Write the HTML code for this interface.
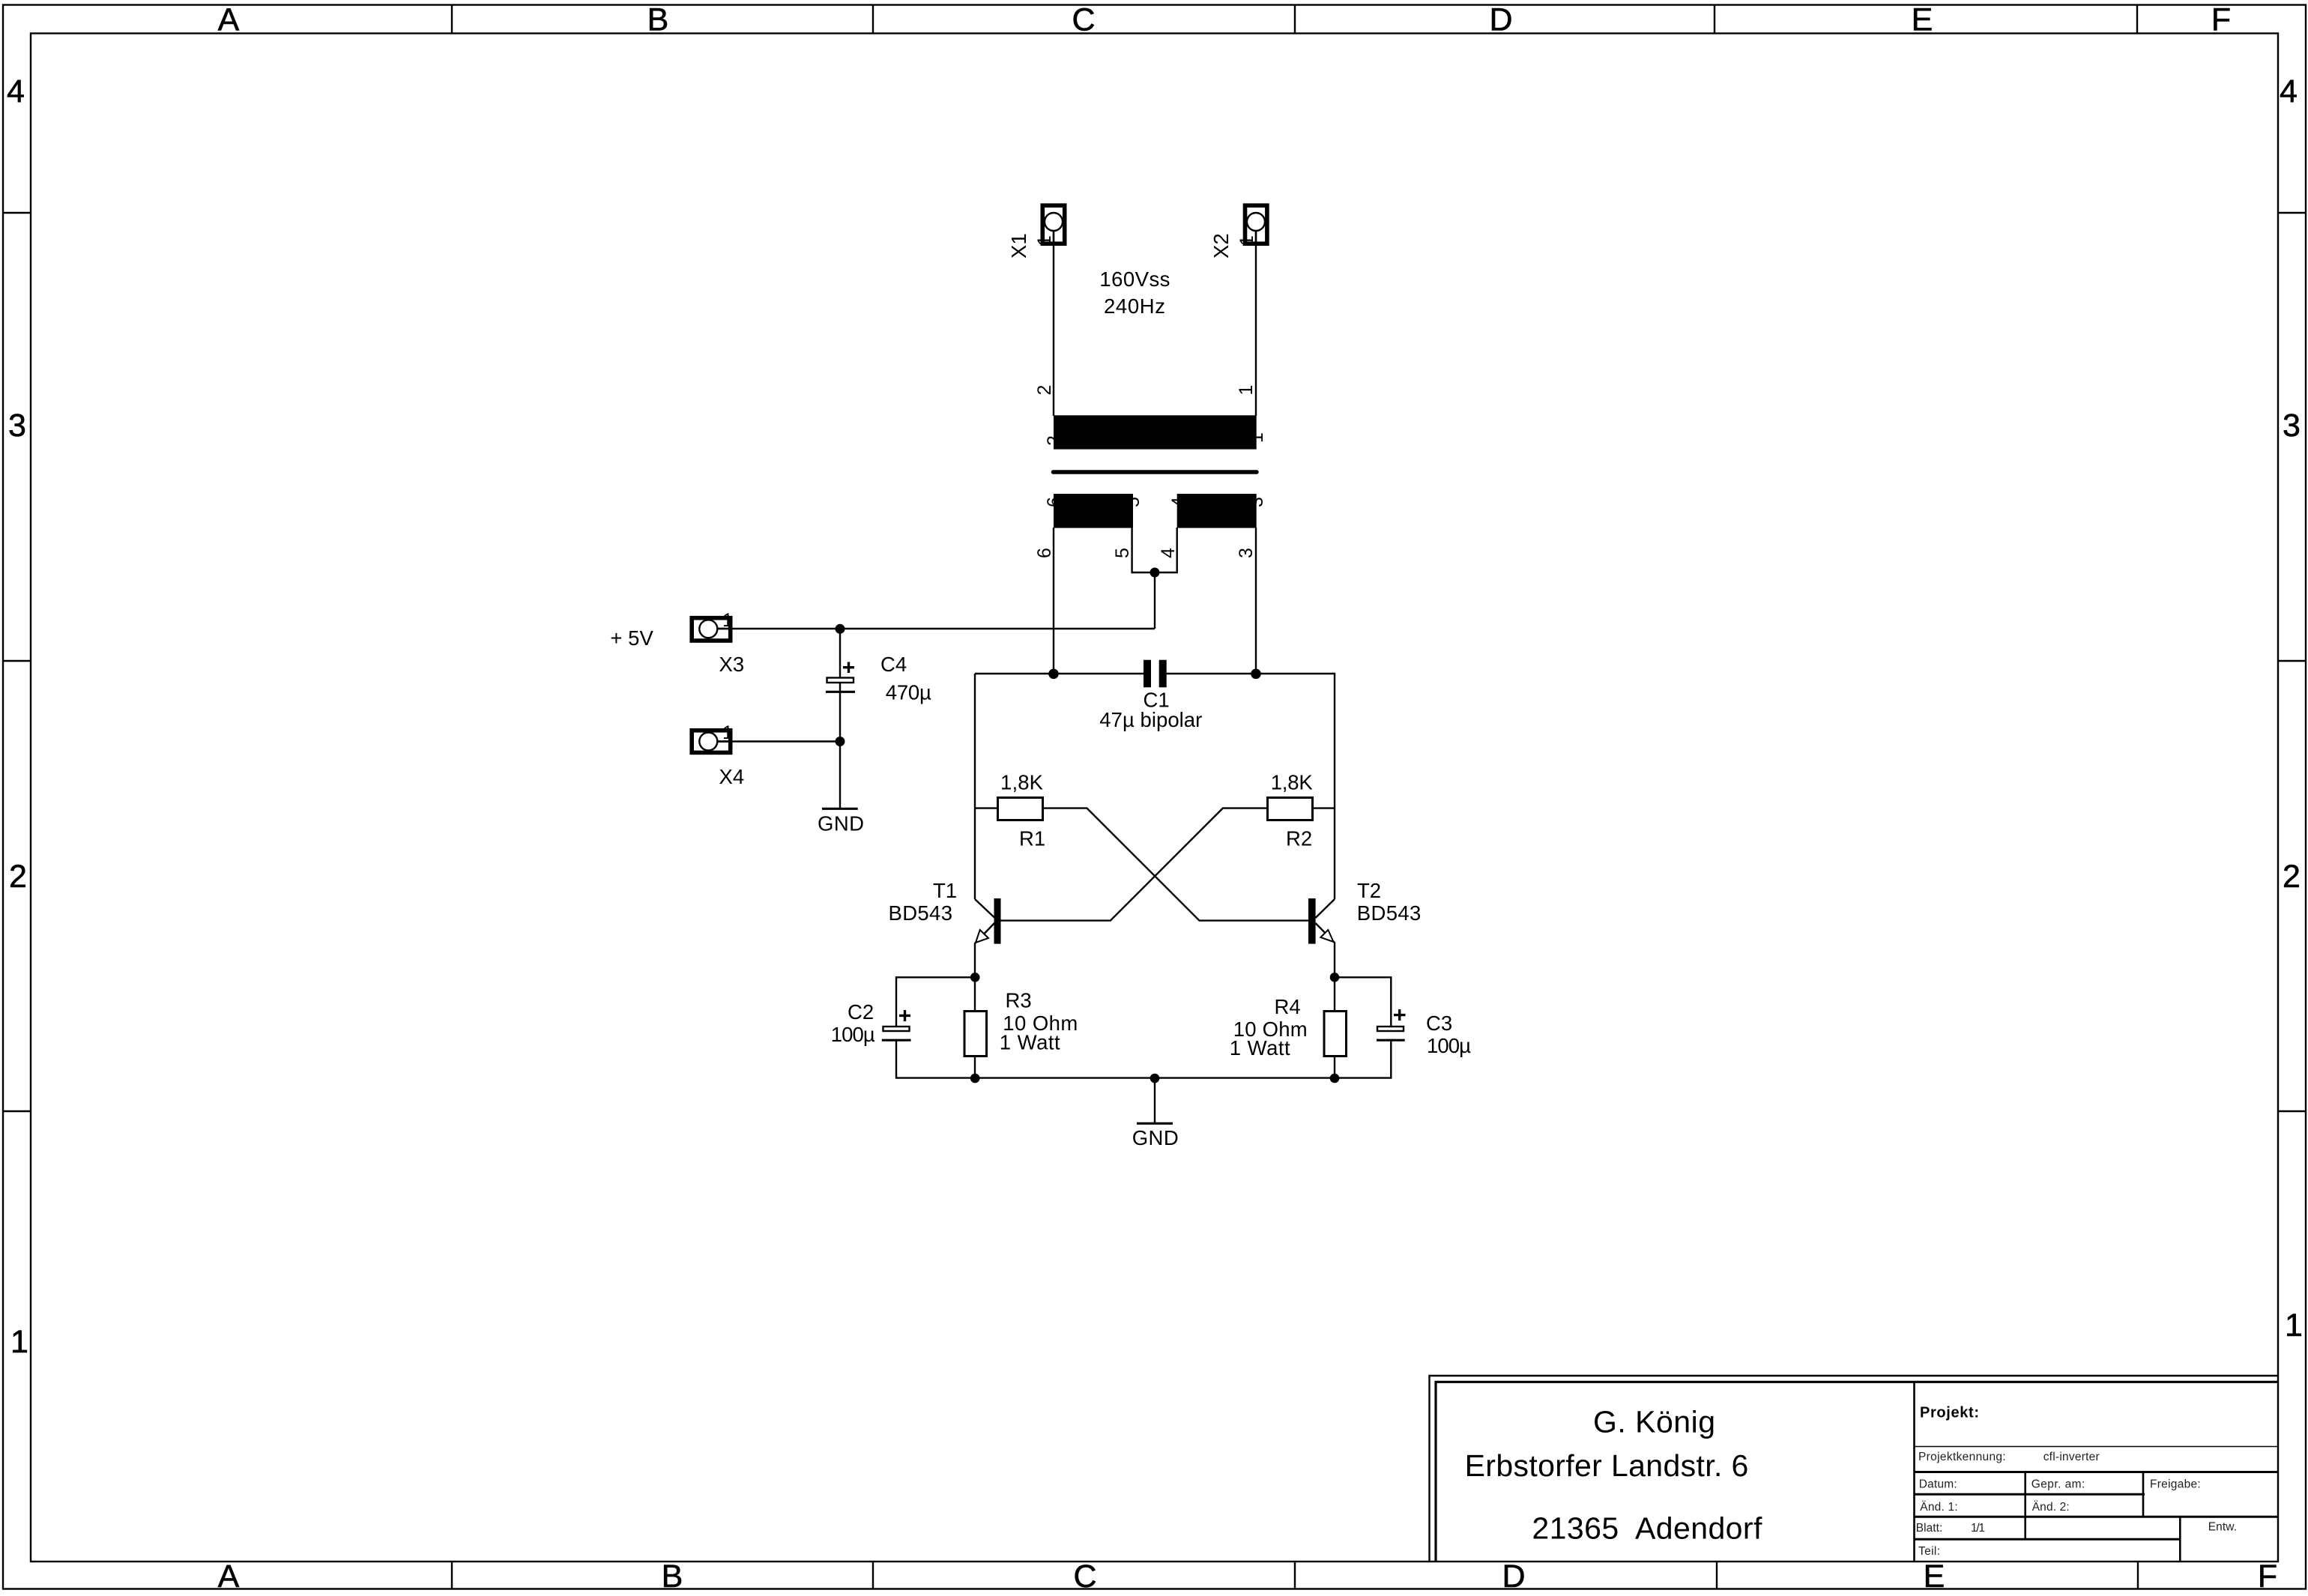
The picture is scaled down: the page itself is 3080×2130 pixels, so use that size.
<!DOCTYPE html>
<html><head><meta charset="utf-8"><style>
html,body{margin:0;padding:0;background:#fff}
svg{display:block}
text{font-family:"Liberation Sans",sans-serif;fill:#000}
.t{font-size:27.5px}
.s{font-size:15.5px;fill:#222}
.b{font-size:43px;stroke:#000;stroke-width:.6px}
.h{font-size:41px}
</style></head><body>
<svg xmlns="http://www.w3.org/2000/svg" width="3080" height="2130" viewBox="0 0 3080 2130">
<rect width="3080" height="2130" fill="#fff"/>
<!-- frame -->
<g fill="none" stroke="#000" stroke-width="2.4">
<rect x="4" y="6.5" width="3073" height="2114"/>
<rect x="41" y="44.5" width="2999" height="2039.5"/>
<path d="M603 6.5V44.5M1165 6.5V44.5M1728 6.5V44.5M2288 6.5V44.5M2852 6.5V44.5M603 2084V2120.5M1165 2084V2120.5M1728 2084V2120.5M2291 2084V2120.5M2853 2084V2120.5M4 284H41M4 882H41M4 1483H41M3040 284H3077M3040 882H3077M3040 1483H3077"/>
</g>
<g class="b" text-anchor="middle">
<text class="b" x="305" y="40.5">A</text><text class="b" x="878" y="40.5">B</text><text class="b" x="1446" y="40.5">C</text><text class="b" x="2003" y="40.5">D</text><text class="b" x="2565" y="40.5">E</text><text class="b" x="2964" y="40.5">F</text>
<text class="b" x="305" y="2118">A</text><text class="b" x="897" y="2118">B</text><text class="b" x="1448" y="2118">C</text><text class="b" x="2020" y="2118">D</text><text class="b" x="2581" y="2118">E</text><text class="b" x="3026" y="2118">F</text>
<text class="b" x="21" y="136">4</text><text class="b" x="23" y="582">3</text><text class="b" x="24" y="1184">2</text><text class="b" x="26" y="1805">1</text>
<text class="b" x="3054" y="136">4</text><text class="b" x="3058" y="582">3</text><text class="b" x="3058" y="1184">2</text><text class="b" x="3061" y="1783">1</text>
</g>
<!-- title block -->
<g fill="none" stroke="#000">
<path d="M1907.5 2084V1836H3040" stroke-width="2.4"/>
<path d="M1916 2084V1844.3H3040" stroke-width="3.2"/>
<path d="M2554.5 1844V2084" stroke-width="2.6"/>
<path d="M2554 1930.5H3040" stroke-width="1.6"/>
<path d="M2554 1964.5H3040M2554 1994.2H2862M2554 2024.2H3040M2554 2054.2H2909" stroke-width="3"/>
<path d="M2702.7 1964V2053M2860 1964V2024M2909.3 2024V2084" stroke-width="2.6"/>
</g>
<text class="h" x="2126" y="1911.7" textLength="163">G. König</text>
<text class="h" x="1954.6" y="1970" textLength="378.7">Erbstorfer Landstr. 6</text>
<text class="h" x="2044.4" y="2053.3" textLength="307" xml:space="preserve">21365  Adendorf</text>
<text x="2562" y="1891.7" font-size="20" font-weight="bold" textLength="79">Projekt:</text>
<text class="s" x="2560" y="1949" textLength="116.7">Projektkennung:</text>
<text class="s" x="2726.7" y="1949" textLength="75">cfl-inverter</text>
<text class="s" x="2560.7" y="1985.7" textLength="51">Datum:</text>
<text class="s" x="2710.7" y="1985.7" textLength="71.6">Gepr. am:</text>
<text class="s" x="2869" y="1985.7" textLength="67.7">Freigabe:</text>
<text class="s" x="2562.3" y="2016" textLength="50.4">Änd. 1:</text>
<text class="s" x="2711.7" y="2016" textLength="50">Änd. 2:</text>
<text class="s" x="2556.7" y="2044" textLength="35.6">Blatt:</text>
<text class="s" x="2630" y="2044" textLength="19">1/1</text>
<text class="s" x="2946.7" y="2042.7" textLength="38.3">Entw.</text>
<text class="s" x="2560" y="2075" textLength="29">Teil:</text>

<!-- pin labels behind components -->
<g font-size="25">
<text transform="translate(1402,328) rotate(-90)">1</text>
<text transform="translate(1672,328) rotate(-90)">1</text>
<text transform="translate(1415,595) rotate(-90)">2</text>
<text transform="translate(1685,591) rotate(-90)">1</text>
<text transform="translate(1415,677) rotate(-90)">6</text>
<text transform="translate(1520,677) rotate(-90)">5</text>
<text transform="translate(1581,677) rotate(-90)">4</text>
<text transform="translate(1685,677) rotate(-90)">3</text>
<text transform="translate(1402,527.5) rotate(-90)">2</text>
<text transform="translate(1671,527.5) rotate(-90)">1</text>
<text transform="translate(1402,745) rotate(-90)">6</text>
<text transform="translate(1506,745) rotate(-90)">5</text>
<text transform="translate(1567,745) rotate(-90)">4</text>
<text transform="translate(1671,745) rotate(-90)">3</text>
<text x="964" y="836">1</text>
<text x="964" y="986">1</text>
</g>
<!-- transformer -->
<rect x="1406" y="554.3" width="270.7" height="45.3"/>
<rect x="1406" y="659" width="106" height="45.6"/>
<rect x="1570.7" y="659" width="106" height="45.6"/>
<path d="M1405.5 630H1677" stroke="#000" stroke-width="5.5" stroke-linecap="round"/>
<!-- wires -->
<g fill="none" stroke="#000" stroke-width="2.4" stroke-linejoin="miter">
<path d="M1406 308V555M1676 308V555M1406 704V899M1676 704V899"/>
<path d="M1510.6 704V764H1570.7V704M1541 764V839M957 839H1541"/>
<path d="M957 989.5H1121M1121 839V904M1121 911V923M1121 923V1079"/>
<path d="M1301 899H1526M1556 899H1781V1200M1301 899V1200"/>
<path d="M1301 1078.6H1331M1392 1078.6H1450.5L1600.5 1228.6H1746"/>
<path d="M1335 1228.6H1481.8L1631.8 1078.6H1691M1752 1078.6H1781"/>
<path d="M1301 1200L1327 1224.5M1781 1200L1755.5 1225"/>
<path d="M1327 1232L1301 1259V1348M1755.5 1232L1781 1258V1348"/>
<path d="M1301 1410V1439M1781 1410V1439"/>
<path d="M1196 1370V1304.3H1301M1781 1304.3H1856.3V1370"/>
<path d="M1196 1388V1438.6H1856.3V1388"/>
<path d="M1541 1439V1499"/>
</g>
<!-- ground bars -->
<g stroke="#000" stroke-width="3.2" fill="none">
<path d="M1097 1079.3H1144.7M1517 1499.3H1565"/>
<path d="M1102 923.3H1141M1176.8 1388.2H1215.5M1837 1388.2H1874.7"/>
</g>
<!-- C plates -->
<g fill="#fff" stroke="#000" stroke-width="2.4">
<rect x="1103.5" y="904.5" width="35.5" height="6.5"/>
<rect x="1178.5" y="1370" width="35" height="6"/>
<rect x="1838" y="1370" width="35" height="6"/>
</g>
<g stroke="#000" stroke-width="3.4" fill="none">
<path d="M1125 890.7H1140M1132.5 883.5V898M1200 1355.4H1215M1207.5 1348V1363M1860 1354.6H1875.5M1867.7 1347V1362"/>
</g>
<rect x="1526" y="880.7" width="10" height="36.6"/>
<rect x="1546.7" y="880.7" width="10" height="36.6"/>
<!-- resistors -->
<g fill="#fff" stroke="#000" stroke-width="3">
<rect x="1331.5" y="1064.5" width="60" height="30"/>
<rect x="1691.5" y="1064.5" width="60" height="30"/>
<rect x="1287" y="1349.5" width="29.5" height="60"/>
<rect x="1767" y="1349.5" width="29.5" height="60"/>
</g>
<!-- transistors -->
<rect x="1326.5" y="1199" width="9" height="60.6"/>
<rect x="1746" y="1199" width="9.6" height="60.6"/>
<g fill="#fff" stroke="#000" stroke-width="2">
<path d="M1302 1258L1307.7 1241L1319 1252Z"/>
<path d="M1779.5 1257L1762.3 1251L1772.3 1241Z"/>
</g>
<!-- connectors -->
<g fill="none" stroke="#000" stroke-width="5.6">
<rect x="1391.3" y="274.2" width="29.4" height="51"/>
<rect x="1661.5" y="274.2" width="29.4" height="51"/>
<rect x="923.2" y="824.7" width="51.5" height="30.3"/>
<rect x="923.2" y="974.8" width="51.5" height="29.6"/>
</g>
<g fill="#fff" stroke="#000" stroke-width="2.4">
<circle cx="1406" cy="296" r="12"/>
<circle cx="1676" cy="296" r="12"/>
<circle cx="945.3" cy="839.3" r="12"/>
<circle cx="945.3" cy="989.5" r="12"/>
</g>
<path d="M1406 308V328M1676 308V328M957 839H977M957 989.5H977" stroke="#000" stroke-width="2.4"/>
<!-- junctions -->
<g>
<circle cx="1541" cy="764" r="6.5"/><circle cx="1121" cy="839.3" r="6.5"/><circle cx="1121" cy="989.5" r="6.5"/>
<circle cx="1406" cy="899.3" r="6.8"/><circle cx="1676" cy="899.3" r="6.8"/>
<circle cx="1301.2" cy="1304.3" r="6.3"/><circle cx="1781" cy="1304.3" r="6.3"/>
<circle cx="1301.2" cy="1439" r="6.3"/><circle cx="1541" cy="1439" r="6.3"/><circle cx="1781" cy="1439" r="6.3"/>
</g>
<!-- labels -->
<g class="t">
<text class="t" transform="translate(1369,345) rotate(-90)">X1</text>
<text class="t" transform="translate(1639,345) rotate(-90)">X2</text>
<text class="t" x="1467.4" y="381.8" textLength="94">160Vss</text>
<text class="t" x="1473" y="418" textLength="82">240Hz</text>
<text class="t" x="814.4" y="861" textLength="57.4" xml:space="preserve">+ 5V</text>
<text class="t" x="959.5" y="896">X3</text>
<text class="t" x="959.5" y="1046">X4</text>
<text class="t" x="1175" y="896">C4</text>
<text class="t" x="1181.8" y="933.3" textLength="61">470µ</text>
<text class="t" x="1091" y="1108.3" textLength="62">GND</text>
<text class="t" x="1510.7" y="1527.9" textLength="62">GND</text>
<text class="t" x="1525.5" y="943.3">C1</text>
<text class="t" x="1467.3" y="970" textLength="137">47µ bipolar</text>
<text class="t" x="1335" y="1053.6" textLength="57">1,8K</text>
<text class="t" x="1695.7" y="1053.6" textLength="56">1,8K</text>
<text class="t" x="1360" y="1128.6">R1</text>
<text class="t" x="1716" y="1128.6">R2</text>
<text class="t" x="1245" y="1198">T1</text>
<text class="t" x="1185.5" y="1227.9" textLength="85.5">BD543</text>
<text class="t" x="1811" y="1198">T2</text>
<text class="t" x="1810.8" y="1227.9" textLength="85.5">BD543</text>
<text class="t" x="1341.5" y="1344.6">R3</text>
<text class="t" x="1338.3" y="1375" textLength="100">10 Ohm</text>
<text class="t" x="1333.7" y="1400.7" textLength="81">1 Watt</text>
<text class="t" x="1131" y="1360">C2</text>
<text class="t" x="1108.7" y="1390" textLength="59">100µ</text>
<text class="t" x="1700.5" y="1352.9">R4</text>
<text class="t" x="1645.7" y="1382.9" textLength="99">10 Ohm</text>
<text class="t" x="1640.7" y="1408.2" textLength="81">1 Watt</text>
<text class="t" x="1903" y="1375">C3</text>
<text class="t" x="1904" y="1405" textLength="59">100µ</text>
</g>
</svg>
</body></html>
